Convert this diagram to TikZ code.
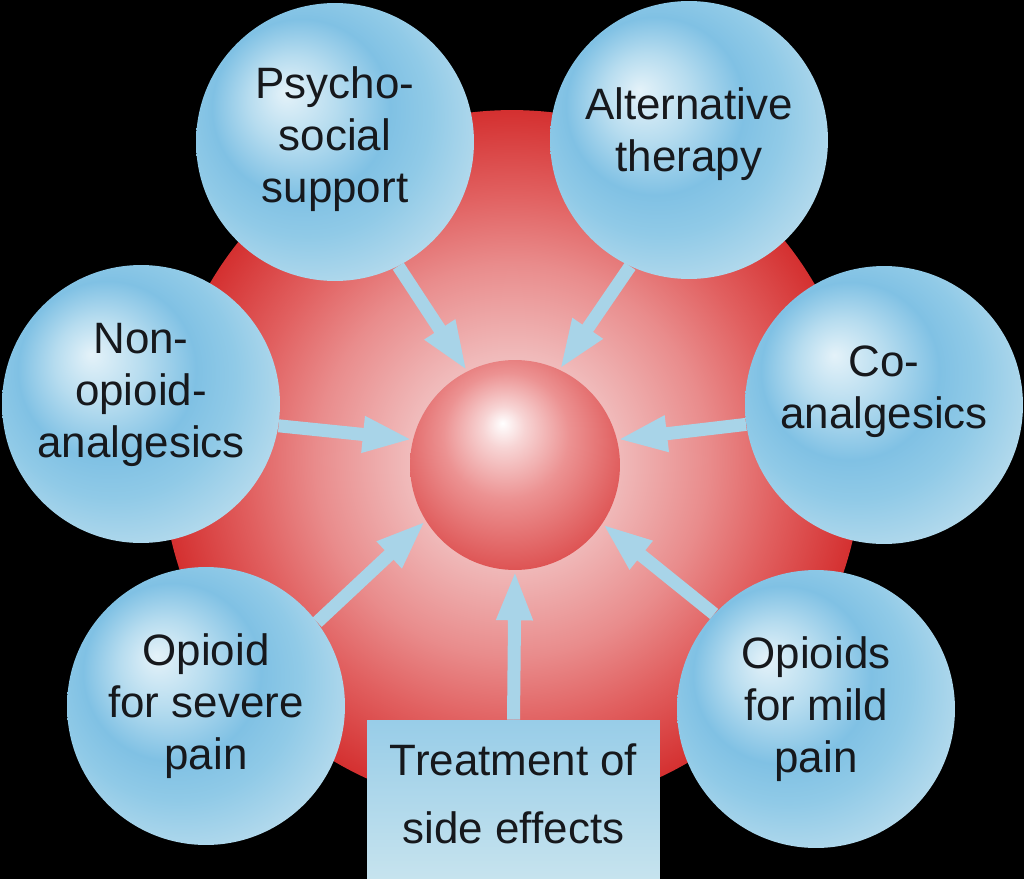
\documentclass[tikz,border=0pt]{standalone}
\usepackage{xcolor}
\usepackage{fontspec}
\setmainfont{Liberation Sans}
\usepackage{tikz}
\usetikzlibrary{arrows.meta,shapes.geometric}

\definecolor{inkdark}{RGB}{22,24,28}
\definecolor{bubblehigh}{RGB}{228,242,249}
\definecolor{bubblelight}{RGB}{182,220,239}
\definecolor{bubblemid}{RGB}{128,193,228}
\definecolor{bubblesoft}{RGB}{144,202,231}
\definecolor{bubbleedge}{RGB}{182,219,237}
\definecolor{diskinner}{RGB}{250,226,226}
\definecolor{diskpink}{RGB}{240,186,186}
\definecolor{diskmid}{RGB}{233,140,140}
\definecolor{diskdeep}{RGB}{225,96,96}
\definecolor{diskouter}{RGB}{212,48,48}
\definecolor{corelight}{RGB}{247,212,212}
\definecolor{coremid}{RGB}{236,146,146}
\definecolor{coreouter}{RGB}{221,80,80}
\definecolor{arrowblue}{RGB}{168,212,232}
\definecolor{boxtop}{RGB}{152,205,232}
\definecolor{boxbottom}{RGB}{198,227,238}

% radial shadings: the node's circle has radius 25bp
\pgfdeclareradialshading{bubbleshade}{\pgfpoint{-9bp}{9bp}}{%
  color(0bp)=(bubblehigh);
  color(8bp)=(bubblelight);
  color(16bp)=(bubblemid);
  color(22bp)=(bubblesoft);
  color(31bp)=(bubbleedge);
  color(50bp)=(bubbleedge)}
\pgfdeclareradialshading{diskshade}{\pgfpoint{0bp}{0bp}}{%
  color(0bp)=(diskinner);
  color(7.5bp)=(diskpink);
  color(14bp)=(diskmid);
  color(19bp)=(diskdeep);
  color(25bp)=(diskouter);
  color(50bp)=(diskouter)}
\pgfdeclareradialshading{coreshade}{\pgfpoint{-3bp}{10bp}}{%
  color(0bp)=(white);
  color(5bp)=(corelight);
  color(15bp)=(coremid);
  color(30bp)=(coreouter);
  color(50bp)=(coreouter)}

% raise the lines of a label without changing the node size
\newcommand{\liftup}[2]{\raisebox{#1}[\height][\depth]{\begin{tabular}{@{}c@{}}#2\end{tabular}}}

\tikzset{
    bubble/.style={circle, minimum size=5.56cm, inner sep=0pt, shading=bubbleshade, align=center, font=\fontsize{25}{29.6}\selectfont, text=inkdark},
    disk/.style={circle, minimum size=14cm, inner sep=0pt, shading=diskshade},
    core/.style={circle, minimum size=4.2cm, inner sep=0pt, shading=coreshade},
    sidebox/.style={rectangle, minimum width=5.86cm, minimum height=3.18cm, inner sep=0pt, top color=boxtop, bottom color=boxbottom, align=center, font=\fontsize{25}{29.6}\selectfont, text=inkdark},
    feed/.style={-{Triangle[length=1cm, width=0.66cm]}, line width=0.26cm, draw=arrowblue, fill=arrowblue},
}

\begin{document}
\begin{tikzpicture}[x=0.02cm, y=-0.02cm]
    \fill[black] (0,0) rectangle (1024,879);
    \useasboundingbox (0,0) rectangle (1024,879);

    \node[disk] (field) at (512,460) {};
    \node[core] (core) at (515,465) {};

    \node[bubble] (psycho) at (335,142) {\liftup{1pt}{Psycho-\\social\\support}};
    \node[bubble] (altern) at (689,140) {\liftup{3pt}{Alternative\\therapy}};
    \node[bubble] (nonop) at (141,404) {\liftup{5pt}{Non-\\opioid-\\analgesics}};
    \node[bubble] (coanalg) at (884,405) {\liftup{7.5pt}{Co-\\analgesics}};
    \node[bubble] (severe) at (206,706) {Opioid\\for severe\\pain};
    \node[bubble] (mild) at (816,709) {Opioids\\for mild\\pain};
    \node[sidebox] (care) at (513.5,799.5) {\liftup{0pt}{Treatment of\\[0.32cm]side effects}};

    \draw[feed] (psycho.-63) -- (core.117);
    \draw[feed] (altern.-115) -- (core.65);
    \draw[feed] (nonop.-9) -- (core.166);
    \draw[feed] (coanalg.-172) -- (core.14);
    \draw[feed] (severe.37) -- (core.-148);
    \draw[feed] (mild.137) -- (core.-34);
    \draw[feed] (care.north) -- (core.south);
\end{tikzpicture}
\end{document}
